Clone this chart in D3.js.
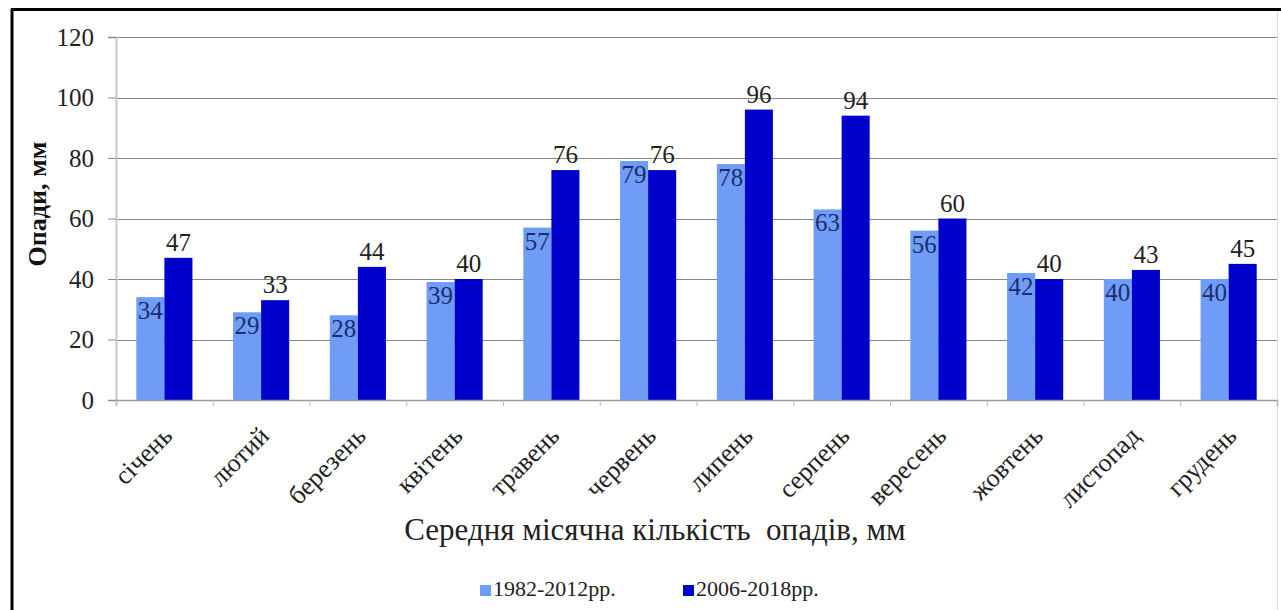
<!DOCTYPE html>
<html>
<head>
<meta charset="utf-8">
<script src="https://cdn.jsdelivr.net/npm/d3@7"></script>
<style>
  body { margin: 0; background: #fff; }
</style>
</head>
<body>
<div id="chart"></div>
<script>
// data
var months = ["січень", "лютий", "березень", "квітень", "травень", "червень",
              "липень", "серпень", "вересень", "жовтень", "листопад", "грудень"];
var seriesNames = ["1982-2012рр.", "2006-2018рр."];
var values1982 = [34, 29, 28, 39, 57, 79, 78, 63, 56, 42, 40, 40];
var values2006 = [47, 33, 44, 40, 76, 76, 96, 94, 60, 40, 43, 45];
var yTicks = [0, 20, 40, 60, 80, 100, 120];

var colors = ["#6f9cf6", "#0000cc"];
var serif = "'Liberation Serif', 'Times New Roman', 'DejaVu Serif', serif";

var width = 1281, height = 610;
var plotLeft = 116, plotRight = 1277, plotTop = 37, plotBottom = 400;

var svg = d3.select("#chart").append("svg")
    .attr("width", width)
    .attr("height", height)
    .attr("font-family", serif);

// frame
svg.append("rect").attr("x", 0).attr("y", 0).attr("width", width).attr("height", height).attr("fill", "#fff");
svg.append("line").attr("x1", 12).attr("x2", 12).attr("y1", 9).attr("y2", height)
    .attr("stroke", "#000").attr("stroke-width", 3);
svg.append("line").attr("x1", 11).attr("x2", width).attr("y1", 9.5).attr("y2", 9.5)
    .attr("stroke", "#000").attr("stroke-width", 3);
svg.append("line").attr("x1", 1277.5).attr("x2", 1277.5).attr("y1", 11).attr("y2", height)
    .attr("stroke", "#ddd").attr("stroke-width", 1);

var y = d3.scaleLinear().domain([0, 120]).range([plotBottom, plotTop]);
var x0 = d3.scaleBand().domain(months).range([plotLeft, plotRight]).padding(0);
var groupW = x0.bandwidth() * 0.58;
var x1 = d3.scaleBand().domain([0, 1]).range([0, groupW]);
var offset = (x0.bandwidth() - groupW) / 2;

// gridlines + y axis
svg.append("g").selectAll("line").data(yTicks.filter(function(d) { return d > 0; }))
    .enter().append("line")
    .attr("x1", plotLeft).attr("x2", plotRight)
    .attr("y1", function(d) { return Math.round(y(d)) + 0.5; })
    .attr("y2", function(d) { return Math.round(y(d)) + 0.5; })
    .attr("stroke", "#888").attr("stroke-width", 1);

var yAxis = d3.axisLeft(y).tickValues(yTicks).tickSize(8).tickPadding(14);
var gy = svg.append("g").attr("transform", "translate(" + plotLeft + ",0)").call(yAxis)
    .attr("font-family", serif);
gy.select(".domain").attr("stroke", "#c8c8c8").attr("stroke-width", 2);
gy.selectAll(".tick line").attr("stroke", "#888");
gy.selectAll(".tick text").attr("font-size", 25).attr("fill", "#222");

// bars
var data = months.map(function(m, i) { return [values1982[i], values2006[i]]; });
var groups = svg.append("g").selectAll("g").data(data).enter().append("g")
    .attr("transform", function(d, i) { return "translate(" + (x0(months[i]) + offset) + ",0)"; });

groups.selectAll("rect").data(function(d) { return d; }).enter().append("rect")
    .attr("x", function(d, j) { return x1(j); })
    .attr("y", function(d) { return y(d); })
    .attr("width", x1.bandwidth())
    .attr("height", function(d) { return plotBottom - y(d); })
    .attr("fill", function(d, j) { return colors[j]; });

groups.selectAll("text").data(function(d) { return d; }).enter().append("text")
    .attr("x", function(d, j) { return x1(j) + x1.bandwidth() / 2; })
    .attr("y", function(d, j) { return j === 0 ? y(d) + 22 : y(d) - 7; })
    .attr("text-anchor", "middle")
    .attr("font-size", 25)
    .attr("fill", function(d, j) { return j === 0 ? "#1d2c6e" : "#222"; })
    .text(function(d) { return d; });

// x axis
var xAxis = d3.axisBottom(d3.scaleLinear().domain([0, 12]).range([plotLeft, plotRight]))
    .tickValues(d3.range(0, 13)).tickSize(6).tickFormat("");
var gx = svg.append("g").attr("transform", "translate(0," + plotBottom + ")").call(xAxis);
gx.select(".domain").attr("stroke", "#999").attr("stroke-width", 1.5);
gx.selectAll(".tick line").attr("stroke", "#bbb");

svg.append("g").selectAll("text").data(months).enter().append("text")
    .attr("transform", function(d) {
        return "translate(" + (x0(d) + x0.bandwidth() / 2 + 3) + "," + (plotBottom + 31) + ") rotate(-45)";
    })
    .attr("text-anchor", "end")
    .attr("dy", "0.35em")
    .attr("font-size", 26)
    .attr("fill", "#222")
    .text(function(d) { return d; });

// axis titles
svg.append("text")
    .attr("transform", "translate(46,204) rotate(-90)")
    .attr("text-anchor", "middle")
    .attr("font-size", 26)
    .attr("font-weight", "bold")
    .attr("fill", "#111")
    .text("Опади, мм");

svg.append("text")
    .attr("x", 655).attr("y", 540)
    .attr("text-anchor", "middle")
    .attr("font-size", 31)
    .attr("fill", "#222")
    .style("white-space", "pre")
    .text("Середня місячна кількість  опадів, мм");

// legend
var legendX = [480, 683];
var legend = svg.append("g").selectAll("g").data(seriesNames).enter().append("g")
    .attr("transform", function(d, i) { return "translate(" + legendX[i] + ",585)"; });
legend.append("rect").attr("width", 11).attr("height", 11)
    .attr("fill", function(d, i) { return colors[i]; });
legend.append("text").attr("x", 13).attr("y", 11)
    .attr("font-size", 22).attr("fill", "#222")
    .text(function(d) { return d; });
</script>
</body>
</html>
